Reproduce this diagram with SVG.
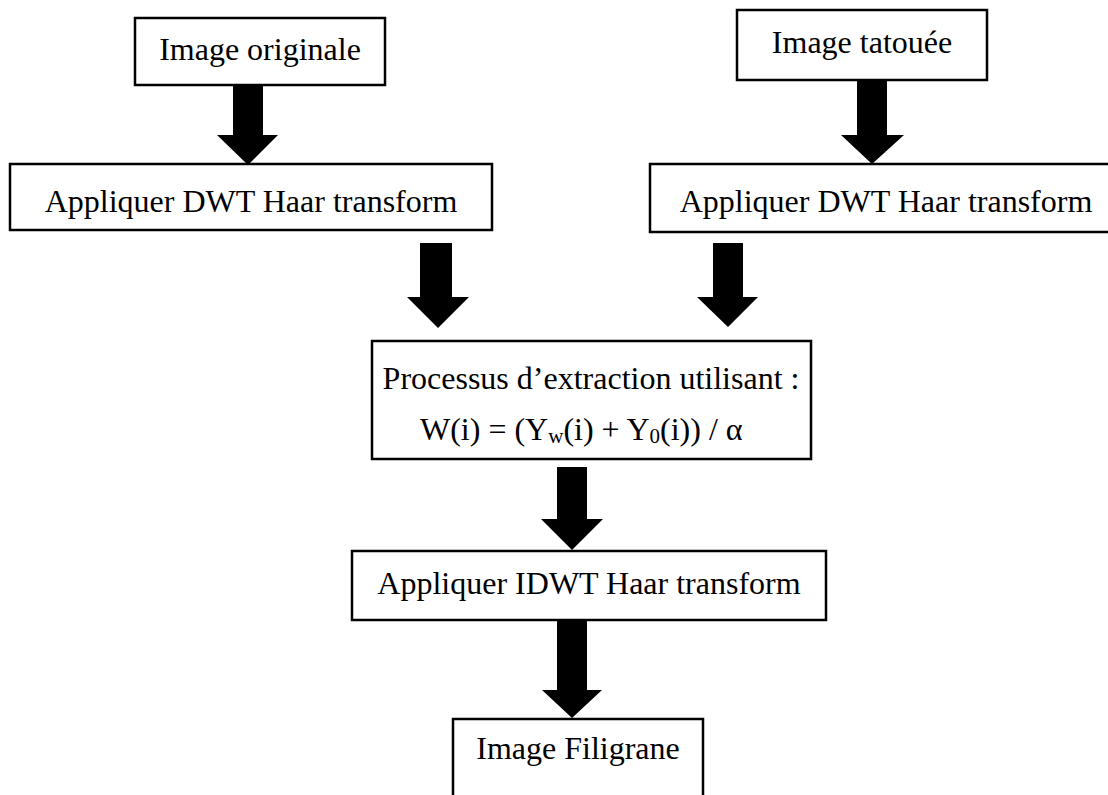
<svg xmlns="http://www.w3.org/2000/svg" width="1108" height="795" viewBox="0 0 1108 795">
  <style>
    .box { fill: #ffffff; stroke: #000000; stroke-width: 2.5; }
    .lbl { font-family: "Liberation Serif", "Times New Roman", serif; font-size: 32px; fill: #000000; }
    .arrow { fill: #000000; stroke: none; }
  </style>
  <rect width="1108" height="795" fill="#ffffff"/>

  <!-- block arrows between the steps -->
  <g id="connectors">
    <polygon class="arrow" points="233,85 263,85 263,135 278,135 248,165 217,135 233,135"/>
    <polygon class="arrow" points="857,81 887,81 887,135 904,135 872,164 841,135 857,135"/>
    <polygon class="arrow" points="420,243 452,243 452,297 469,297 438,328 407,297 420,297"/>
    <polygon class="arrow" points="713,243 743,243 743,297 758,297 728,327 697,297 713,297"/>
    <polygon class="arrow" points="557,467 587,467 587,519 603,519 572,550 541,519 557,519"/>
    <polygon class="arrow" points="557,621 587,621 587,690 602,690 572,718 542,690 557,690"/>
  </g>

  <g id="image-originale">
    <rect class="box" x="135" y="18" width="250" height="67"/>
    <text class="lbl" x="260" y="60" text-anchor="middle">Image originale</text>
  </g>

  <g id="image-tatouee">
    <rect class="box" x="737" y="10" width="250" height="70"/>
    <text class="lbl" x="862" y="53" text-anchor="middle">Image tatouée</text>
  </g>

  <g id="dwt-originale">
    <rect class="box" x="10" y="164" width="482" height="66"/>
    <text class="lbl" x="251" y="212" text-anchor="middle">Appliquer DWT Haar transform</text>
  </g>

  <g id="dwt-tatouee">
    <rect class="box" x="650" y="164" width="480" height="68"/>
    <text class="lbl" x="886" y="212" text-anchor="middle">Appliquer DWT Haar transform</text>
  </g>

  <g id="extraction">
    <rect class="box" x="372" y="341" width="439" height="118"/>
    <text class="lbl" x="591" y="389" text-anchor="middle">Processus d’extraction utilisant :</text>
    <text class="lbl" x="420" y="440">W(i) = (Y<tspan font-size="21" dy="3">w</tspan><tspan dy="-3">(i) + Y</tspan><tspan font-size="21" dy="3">0</tspan><tspan dy="-3">(i)) / α</tspan></text>
  </g>

  <g id="idwt">
    <rect class="box" x="352" y="551" width="474" height="69"/>
    <text class="lbl" x="589" y="594" text-anchor="middle">Appliquer IDWT Haar transform</text>
  </g>

  <g id="image-filigrane">
    <rect class="box" x="453" y="719" width="250" height="110"/>
    <text class="lbl" x="578" y="759" text-anchor="middle">Image Filigrane</text>
  </g>
</svg>
